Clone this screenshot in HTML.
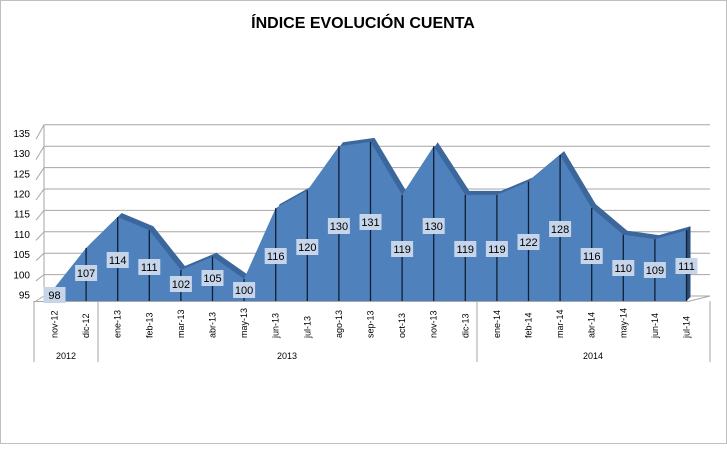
<!DOCTYPE html>
<html><head><meta charset="utf-8"><style>
body{margin:0;background:#fff;}
svg text{font-family:"Liberation Sans",sans-serif;}
</style></head><body>
<svg width="727" height="444" viewBox="0 0 727 444" xmlns="http://www.w3.org/2000/svg">
<rect x="0.5" y="0.5" width="726" height="443" fill="#fff" stroke="#bfbfbf" stroke-width="1"/>
<text x="363" y="28" text-anchor="middle" font-size="16" font-weight="bold" fill="#000">ÍNDICE EVOLUCIÓN CUENTA</text>
<g id="grid" stroke="#a6a6a6" stroke-width="1" fill="none"></g>
<g id="ylab" font-size="10" fill="#000" text-anchor="end"></g>
<g id="chart"></g>
<g id="cat" font-size="9" fill="#000"></g>
</svg>
<script>
const vals=[98,107,114,111,102,105,100,116,120,130,131,119,130,119,119,122,128,116,110,109,111];
const ly=[295,273,260,267,284,278,290,256,247,226,222,249,226,249,249,242,229,256,268,270,266];
const cats=["nov-12","dic-12","ene-13","feb-13","mar-13","abr-13","may-13","jun-13","jul-13","ago-13","sep-13","oct-13","nov-13","dic-13","ene-14","feb-14","mar-14","abr-14","may-14","jun-14","jul-14"];
const NS="http://www.w3.org/2000/svg";
function el(p,t,a,txt){const e=document.createElementNS(NS,t);for(const k in a)e.setAttribute(k,a[k]);if(txt!==undefined)e.textContent=txt;p.appendChild(e);return e;}
const X=i=>54.5+31.6*i, Y=v=>301-(v-95)*4.42;
const g=document.getElementById('grid'),yl=document.getElementById('ylab'),c=document.getElementById('chart'),ct=document.getElementById('cat');
for(let k=0;k<=8;k++){const yb=296-k*21.4;const yf=301-k*20.2;
 el(g,'line',{x1:44,y1:yb,x2:710,y2:yb});el(g,'line',{x1:36,y1:yf,x2:44,y2:yb});
 el(yl,'text',{x:30,y:yf-2.5},String(95+5*k));}
el(g,'line',{x1:44,y1:125,x2:44,y2:296});
el(g,'line',{x1:34,y1:301.5,x2:688,y2:301.5,stroke:'#a6a6a6'});
el(g,'line',{x1:688,y1:301.5,x2:710,y2:296});
let pb='M'+(X(0)+4)+','+(Y(95)-4);vals.forEach((v,i)=>pb+=' L'+(X(i)+4)+','+(Y(v)-4));pb+=' L'+(X(20)+4)+','+(Y(95)-4)+'Z';
el(c,'path',{d:pb,fill:'#3c679c'});
let pf='M'+X(0)+','+Y(95);vals.forEach((v,i)=>pf+=' L'+X(i)+','+Y(v));pf+=' L'+X(20)+','+Y(95)+'Z';
el(c,'path',{d:pf,fill:'#4f81bd'});
el(c,'polygon',{points:`${X(20)},${Y(111)} ${X(20)+4},${Y(111)-4} ${X(20)+4},${Y(95)-4} ${X(20)},${Y(95)}`,fill:'#2c4d75'});
vals.forEach((v,i)=>{if(i>0)el(c,'line',{x1:X(i),y1:Y(v),x2:X(i),y2:301,stroke:'#0f1f33','stroke-width':1.3});});
vals.forEach((v,i)=>{const y=ly[i];
 el(c,'rect',{x:X(i)-11,y:y-8,width:22,height:16,fill:'#c6d5ea'});
 el(c,'text',{x:X(i),y:y+4,'text-anchor':'middle','font-size':11,fill:'#000'},String(v));});
[[34,301,34,362],[98,301,98,362],[477,301,477,362],[710,301,710,362]].forEach(a=>el(g,'line',{x1:a[0],y1:a[1],x2:a[2],y2:a[3],stroke:'#a6a6a6'}));
cats.forEach((s,i)=>el(ct,'text',{transform:`translate(${X(i)+3},338) rotate(-90)`,'font-size':9},s));
[[66,'2012'],[287,'2013'],[593,'2014']].forEach(a=>el(ct,'text',{x:a[0],y:359,'text-anchor':'middle'},a[1]));
</script>
</body></html>
